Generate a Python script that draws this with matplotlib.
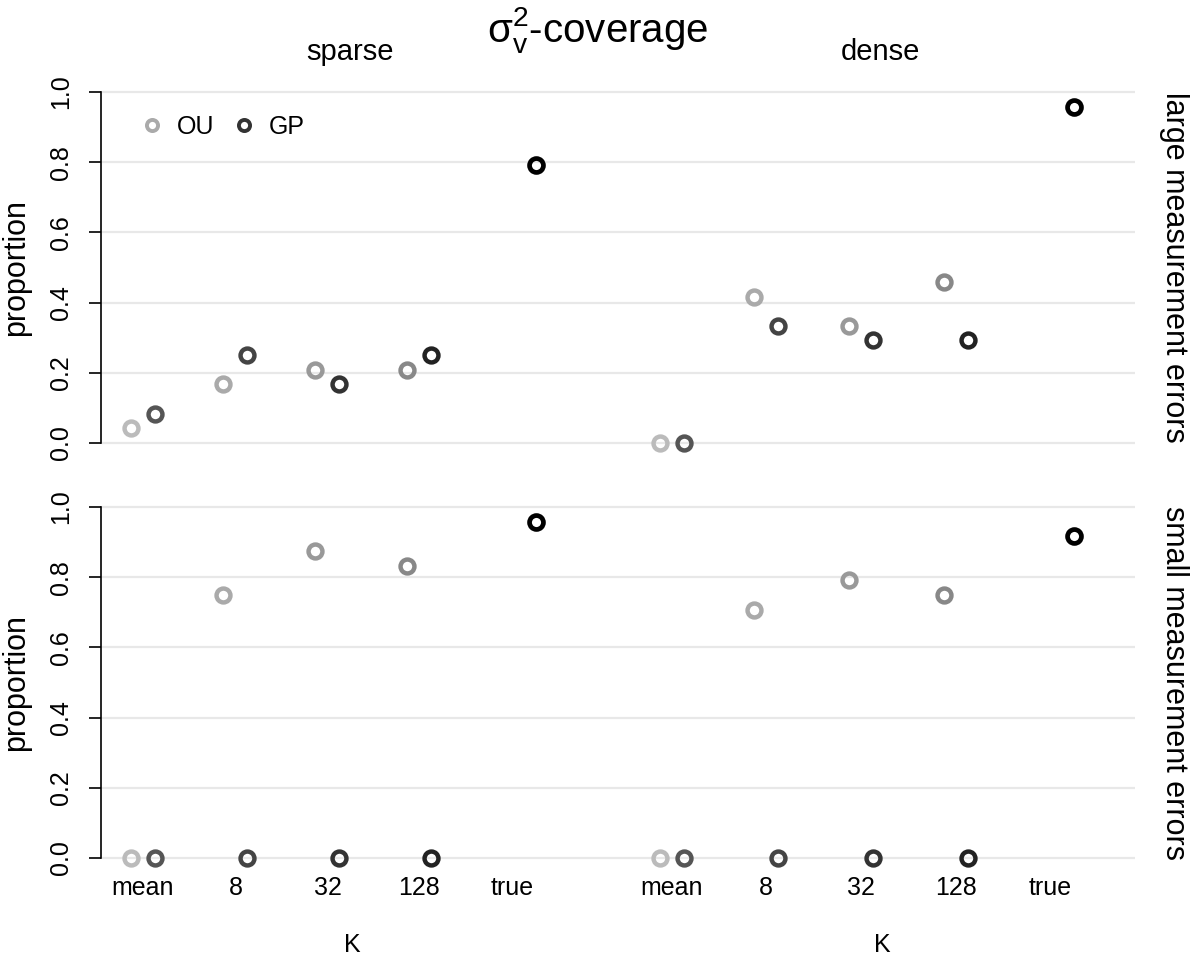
import matplotlib
matplotlib.use('Agg')
from matplotlib import pyplot as plt
from matplotlib.lines import Line2D

plt.rcParams['font.family'] = ['Liberation Sans', 'DejaVu Sans']

# categories and where they sit on the x axis (sparse block, then dense block)
categories = ['mean', '8', '32', '128', 'true']
sparse_pos = [0.0, 0.995, 1.985, 2.97, 3.97]
dense_pos = [5.69, 6.70, 7.72, 8.74, 9.76]

# coverage proportions for mean, 8, 32, 128
large_sparse_ou = [0.042, 0.167, 0.208, 0.208]
large_sparse_gp = [0.083, 0.250, 0.167, 0.250]
large_sparse_true = 0.792
large_dense_ou = [0.0, 0.417, 0.333, 0.458]
large_dense_gp = [0.0, 0.333, 0.292, 0.292]
large_dense_true = 0.958

small_sparse_ou = [0.0, 0.750, 0.875, 0.833]
small_sparse_gp = [0.0, 0.0, 0.0, 0.0]
small_sparse_true = 0.958
small_dense_ou = [0.0, 0.708, 0.792, 0.750]
small_dense_gp = [0.0, 0.0, 0.0, 0.0]
small_dense_true = 0.917

ou_cols = ['#bbbbbb', '#aaaaaa', '#999999', '#888888']
gp_cols = ['#555555', '#444444', '#333333', '#222222']
true_col = '#000000'
d = 0.129  # half distance between OU and GP


def draw_block(ax, pos, ou, gp, true_val):
    for k in range(4):
        ax.plot(pos[k] - d, ou[k], 'o', ms=10, mfc='none', mew=3.2,
                mec=ou_cols[k], clip_on=False, zorder=3)
        ax.plot(pos[k] + d, gp[k], 'o', ms=10, mfc='none', mew=3.2,
                mec=gp_cols[k], clip_on=False, zorder=3)
    ax.plot(pos[4] + 2 * d, true_val, 'o', ms=10, mfc='none', mew=3.4,
            mec=true_col, clip_on=False, zorder=3)


fig = plt.figure(figsize=(12, 9.75), dpi=100)
ax1 = fig.add_axes([0.0842, 0.5313, 0.8617, 0.3887])
ax2 = fig.add_axes([0.0842, 0.1056, 0.8617, 0.3887])

draw_block(ax1, sparse_pos, large_sparse_ou, large_sparse_gp, large_sparse_true)
draw_block(ax1, dense_pos, large_dense_ou, large_dense_gp, large_dense_true)
draw_block(ax2, sparse_pos, small_sparse_ou, small_sparse_gp, small_sparse_true)
draw_block(ax2, dense_pos, small_dense_ou, small_dense_gp, small_dense_true)

for ax in (ax1, ax2):
    ax.set_xlim(-0.45, 10.67)
    ax.set_ylim(-0.04, 1.04)
    ax.set_yticks([0, 0.2, 0.4, 0.6, 0.8, 1.0])
    ax.set_yticklabels(['0.0', '0.2', '0.4', '0.6', '0.8', '1.0'],
                       rotation=90, va='center', fontsize=18)
    ax.tick_params(axis='y', length=9, width=1.2, pad=11)
    ax.yaxis.grid(True, color='#e8e8e8', lw=1.6)
    ax.set_axisbelow(True)
    for s in ('top', 'right', 'bottom'):
        ax.spines[s].set_visible(False)
    ax.spines['left'].set_bounds(0, 1)
    ax.spines['left'].set_linewidth(1.2)
    ax.set_ylabel('proportion', fontsize=22)
    ax.yaxis.set_label_coords(-0.068, 0.5)

ax1.set_xticks([])
ax2.set_xticks(sparse_pos + dense_pos)
ax2.set_xticklabels(categories + categories, fontsize=18)
ax2.tick_params(axis='x', length=0, pad=3)

ax1.text(1.038, 0.5, 'large measurement errors', transform=ax1.transAxes,
         rotation=-90, ha='center', va='center', fontsize=22)
ax2.text(1.038, 0.5, 'small measurement errors', transform=ax2.transAxes,
         rotation=-90, ha='center', va='center', fontsize=22)

handles = [Line2D([], [], ls='none', marker='o', ms=8, mfc='none', mew=2.8, mec='#aaaaaa'),
           Line2D([], [], ls='none', marker='o', ms=8, mfc='none', mew=2.8, mec='#333333')]
ax1.legend(handles, ['OU', 'GP'], ncol=2, loc='center left',
           bbox_to_anchor=(0.038, 0.871), frameon=False, fontsize=18,
           handlelength=0.9, handletextpad=0.55, columnspacing=0.75,
           borderaxespad=0, borderpad=0)

fig.text(598 / 1200, 1 - 30 / 975, r'$\mathregular{σ_v^2}$-coverage',
         ha='center', va='center', fontsize=29)
fig.text(350 / 1200, 1 - 52 / 975, 'sparse', ha='center', va='center', fontsize=21)
fig.text(880 / 1200, 1 - 52 / 975, 'dense', ha='center', va='center', fontsize=21)
fig.text(352 / 1200, 1 - 945 / 975, 'K', ha='center', va='center', fontsize=18)
fig.text(882 / 1200, 1 - 945 / 975, 'K', ha='center', va='center', fontsize=18)

fig.savefig('out.png', dpi=100)
